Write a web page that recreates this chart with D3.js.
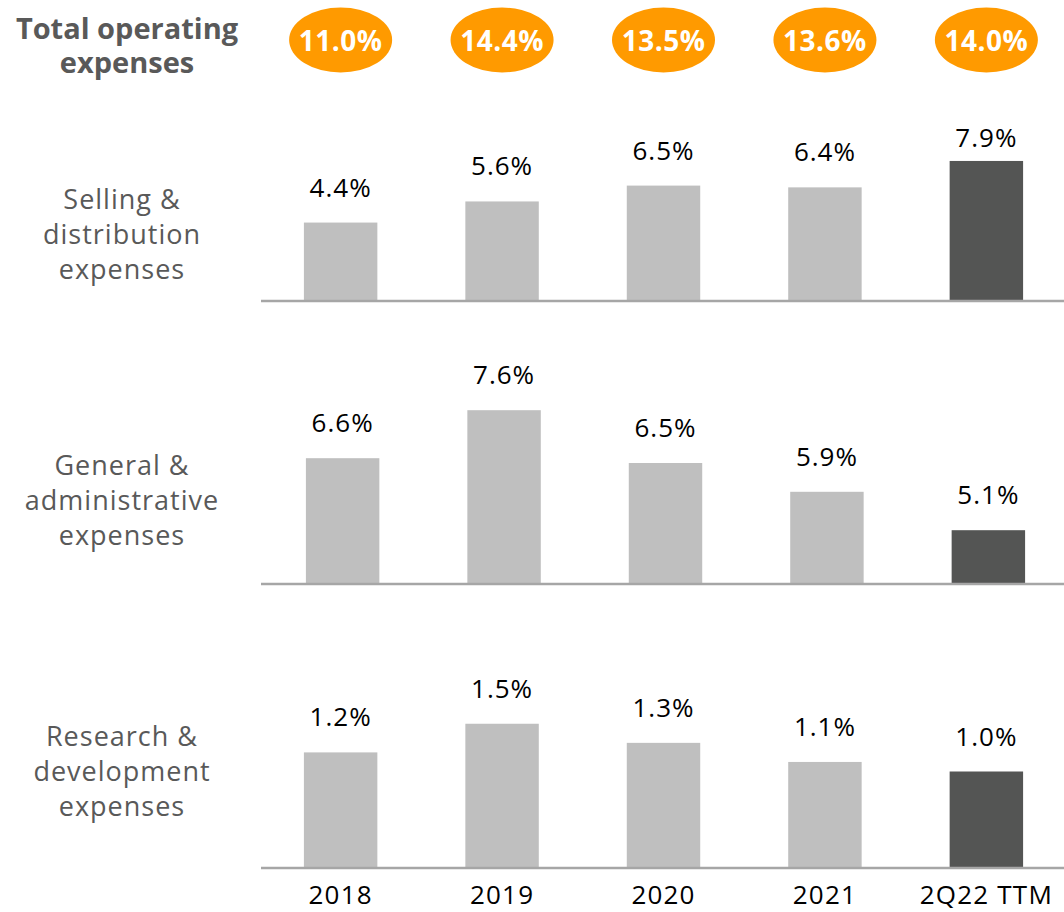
<!DOCTYPE html><html><head><meta charset="UTF-8"><script src="https://d3js.org/d3.v7.min.js"></script><style>
  body { margin: 0; background: #fff; }
  text { font-family: "Open Sans", sans-serif; }
</style></head><body><div id="chart"></div><script>
const periods = ["2018", "2019", "2020", "2021", "2Q22 TTM"];
const totalOpex = [11.0, 14.4, 13.5, 13.6, 14.0];
const sellingDist = [4.4, 5.6, 6.5, 6.4, 7.9];
const generalAdmin = [6.6, 7.6, 6.5, 5.9, 5.1];
const researchDev = [1.2, 1.5, 1.3, 1.1, 1.0];
const rowLabels = [
  ["Selling &", "distribution", "expenses"],
  ["General &", "administrative", "expenses"],
  ["Research &", "development", "expenses"]
];

const W = 1064, H = 912;
const svg = d3.select('#chart').append('svg')
  .attr('width', W).attr('height', H);

const x = d3.scaleBand()
  .domain(periods)
  .range([260, 1067])
  .paddingInner(0.545)
  .paddingOuter(0.272);

const lightGrey = '#bfbfbf', darkGrey = '#545554', orange = '#ff9a00', labelGrey = '#595959';

// header row
svg.append('text')
  .attr('x', 127).attr('y', 39)
  .attr('text-anchor', 'middle')
  .attr('fill', labelGrey)
  .style('font-weight', 'bold')
  .style('font-size', '29px')
  .text('Total operating');
svg.append('text')
  .attr('x', 127).attr('y', 73)
  .attr('text-anchor', 'middle')
  .attr('fill', labelGrey)
  .style('font-weight', 'bold')
  .style('font-size', '29px')
  .text('expenses');

const pills = svg.append('g').selectAll('g')
  .data(totalOpex)
  .enter().append('g')
  .attr('transform', (d, i) => `translate(${x(periods[i]) + x.bandwidth() / 2},40)`);
pills.append('ellipse').attr('rx', 51.5).attr('ry', 32.5).attr('fill', orange);
pills.append('text')
  .attr('text-anchor', 'middle')
  .attr('y', 10.5)
  .attr('fill', '#fff')
  .style('font-weight', 'bold')
  .style('font-size', '28px')
  .style('letter-spacing', '0.5px')
  .text(d => d.toFixed(1) + '%');

// panels
const panels = [
  {values: sellingDist, base: 300, top: 147, y: d3.scaleLinear().domain([0, 10]).range([300, 124]), labelY: 209, dx: 0},
  {values: generalAdmin, base: 583, top: 0, y: d3.scaleLinear().domain([4, 8]).range([583, 391]), labelY: 475, dx: 2},
  {values: researchDev, base: 867, top: 0, y: d3.scaleLinear().domain([0, 2]).range([867, 676]), labelY: 746, dx: 0}
];

panels.forEach((p, k) => {
  const g = svg.append('g').attr('transform', `translate(${p.dx},0)`);

  g.selectAll('.bar')
    .data(p.values)
    .enter().append('rect')
    .attr('class', 'bar')
    .attr('x', (d, i) => x(periods[i]))
    .attr('width', x.bandwidth())
    .attr('y', d => p.y(d))
    .attr('height', d => p.base - p.y(d))
    .attr('fill', (d, i) => i === periods.length - 1 ? darkGrey : lightGrey);

  g.selectAll('.val')
    .data(p.values)
    .enter().append('text')
    .attr('class', 'val')
    .attr('text-anchor', 'middle')
    .attr('x', (d, i) => x(periods[i]) + x.bandwidth() / 2)
    .attr('y', d => Math.max(p.y(d) - 26, p.top))
    .attr('fill', '#000')
    .style('font-size', '26px')
    .style('letter-spacing', '1px')
    .text(d => d.toFixed(1) + '%');

  svg.append('line')
    .attr('x1', 261).attr('x2', W)
    .attr('y1', p.base + 1).attr('y2', p.base + 1)
    .attr('stroke', '#a6a6a6').attr('stroke-width', 2.5);

  const lbl = svg.append('text')
    .attr('text-anchor', 'middle')
    .attr('fill', labelGrey)
    .style('font-size', '27px')
    .style('letter-spacing', '1px');
  rowLabels[k].forEach((t, j) => {
    lbl.append('tspan').attr('x', 122).attr('y', p.labelY + j * 35).text(t);
  });
});

// x axis labels
svg.append('g')
  .attr('transform', 'translate(0,870)')
  .call(d3.axisBottom(x).tickSize(0).tickPadding(16))
  .call(g => g.select('.domain').remove())
  .selectAll('text')
  .attr('dy', '0.71em')
  .attr('fill', '#000')
  .style('font-family', '"Open Sans", sans-serif')
  .style('font-size', '26px')
  .style('letter-spacing', '1.2px');
</script></body></html>
